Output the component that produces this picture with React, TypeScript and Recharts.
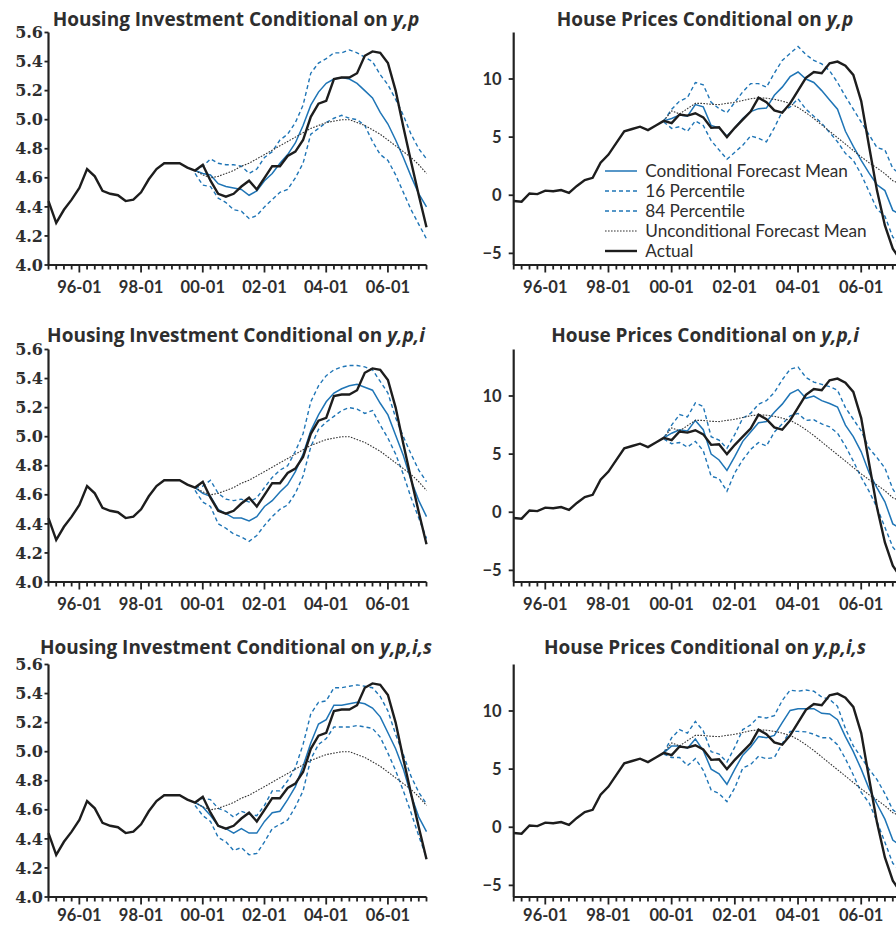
/**
 * Conditional forecasts: housing investment (left) and house prices (right),
 * three conditioning sets stacked in rows. Quarterly, 95-01 .. 07-04.
 */
import { LineChart, Line, XAxis, YAxis, Legend } from 'recharts';

// --- categories -------------------------------------------------------------
const quarters = [
  '95-01', '95-04', '95-07', '95-10', '96-01', '96-04', '96-07', '96-10',
  '97-01', '97-04', '97-07', '97-10', '98-01', '98-04', '98-07', '98-10',
  '99-01', '99-04', '99-07', '99-10', '00-01', '00-04', '00-07', '00-10',
  '01-01', '01-04', '01-07', '01-10', '02-01', '02-04', '02-07', '02-10',
  '03-01', '03-04', '03-07', '03-10', '04-01', '04-04', '04-07', '04-10',
  '05-01', '05-04', '05-07', '05-10', '06-01', '06-04', '06-07', '06-10',
  '07-01', '07-04',
];
const majorLabels = ['96-01', '98-01', '00-01', '02-01', '04-01', '06-01'];
const forecastStart = '99-10';

// --- actuals (full sample) ---------------------------------------------------
const actualInv = [
  4.44, 4.29, 4.38, 4.45, 4.53, 4.66, 4.61, 4.51, 4.49, 4.48,
  4.44, 4.45, 4.50, 4.59, 4.66, 4.70, 4.70, 4.70, 4.67, 4.65,
  4.69, 4.58, 4.49, 4.47, 4.49, 4.54, 4.58, 4.52, 4.60, 4.68,
  4.68, 4.75, 4.78, 4.86, 5.02, 5.11, 5.13, 5.28, 5.29, 5.29,
  5.32, 5.44, 5.47, 5.46, 5.39, 5.20, 4.95, 4.71, 4.48, 4.26,
];
const actualHp = [
  -0.5, -0.55, 0.15, 0.1, 0.4, 0.35, 0.45, 0.2, 0.8, 1.3,
  1.5, 2.8, 3.5, 4.5, 5.5, 5.7, 5.9, 5.6, 6.0, 6.4,
  6.2, 6.95, 6.85, 7.05, 6.7, 5.8, 5.85, 5.0, 5.8, 6.5,
  7.2, 8.4, 8.0, 7.3, 7.1, 7.9, 9.0, 10.1, 10.6, 10.5,
  11.35, 11.5, 11.15, 10.35, 8.1, 4.2, 0.4, -2.6, -4.6, -5.6,
];

// --- forecasts (from 99-10 on) -----------------------------------------------
const uncondInv = [
  4.65, 4.62, 4.60, 4.61, 4.63, 4.65, 4.68, 4.70, 4.73, 4.76,
  4.79, 4.82, 4.85, 4.88, 4.91, 4.94, 4.96, 4.98, 4.99, 5.00,
  5.00, 4.98, 4.96, 4.93, 4.90, 4.86, 4.82, 4.78, 4.74, 4.69, 4.63,
];
const uncondHp = [
  6.4, 7.25, 7.0, 7.45, 7.9, 7.9, 7.82, 7.8, 7.9, 8.0,
  8.15, 8.3, 8.38, 8.35, 8.25, 8.1, 7.9, 7.55, 7.1, 6.6,
  6.05, 5.5, 4.95, 4.4, 3.85, 3.3, 2.8, 2.35, 1.85, 1.25, 0.95,
];

// y,p
const meanInv1 = [
  4.65, 4.63, 4.62, 4.56, 4.54, 4.53, 4.52, 4.48, 4.51, 4.58,
  4.63, 4.70, 4.76, 4.84, 4.96, 5.10, 5.19, 5.25, 5.28, 5.29,
  5.28, 5.25, 5.20, 5.15, 5.05, 4.97, 4.86, 4.74, 4.61, 4.49, 4.40,
];
const hiInv1 = [
  4.65, 4.68, 4.73, 4.70, 4.69, 4.69, 4.68, 4.63, 4.66, 4.74,
  4.78, 4.86, 4.90, 4.98, 5.10, 5.32, 5.39, 5.42, 5.46, 5.46,
  5.48, 5.46, 5.43, 5.40, 5.31, 5.24, 5.14, 5.03, 4.90, 4.80, 4.73,
];
const loInv1 = [
  4.63, 4.55, 4.54, 4.46, 4.43, 4.38, 4.37, 4.32, 4.34, 4.40,
  4.45, 4.50, 4.52, 4.60, 4.70, 4.90, 4.94, 4.98, 5.01, 5.03,
  5.01, 5.00, 4.96, 4.85, 4.76, 4.72, 4.62, 4.50, 4.38, 4.28, 4.18,
];
const meanHp1 = [
  6.4, 6.6, 6.9, 6.8, 7.8, 7.6, 6.0, 5.8, 5.1, 5.8,
  6.6, 7.2, 7.45, 7.5, 8.6, 9.3, 10.2, 10.6, 10.0, 9.7,
  9.0, 8.2, 7.4, 5.5, 4.2, 3.0, 1.9, 0.9, 0.4, -1.3, -1.7,
];
const hiHp1 = [
  6.4, 7.4, 8.1, 8.4, 9.7, 9.5, 8.0, 7.45, 7.1, 8.0,
  8.9, 9.6, 9.6, 9.3, 10.5, 11.6, 12.2, 12.8, 12.1, 11.6,
  11.3, 10.7, 9.7, 8.5, 7.4, 6.3, 5.2, 4.1, 3.9, 2.3, 1.8,
];
const loHp1 = [
  6.3, 5.75, 5.9, 5.5, 6.4, 6.0, 4.7, 3.9, 3.1, 3.7,
  4.3, 5.1, 4.9, 4.6, 5.8, 7.2, 7.6, 8.3, 7.4, 6.8,
  6.2, 5.4, 4.6, 3.6, 3.0, 1.8, 0.3, -1.2, -1.8, -3.6, -4.3,
];

// y,p,i
const meanInv2 = [
  4.65, 4.61, 4.59, 4.50, 4.47, 4.44, 4.44, 4.42, 4.45, 4.52,
  4.56, 4.62, 4.67, 4.76, 4.88, 5.04, 5.15, 5.24, 5.30, 5.33,
  5.35, 5.36, 5.34, 5.32, 5.23, 5.15, 5.01, 4.87, 4.70, 4.56, 4.45,
];
const hiInv2 = [
  4.65, 4.66, 4.70, 4.61, 4.57, 4.56, 4.57, 4.55, 4.58, 4.65,
  4.72, 4.77, 4.80, 4.90, 5.02, 5.24, 5.35, 5.42, 5.46, 5.48,
  5.49, 5.49, 5.48, 5.46, 5.38, 5.30, 5.13, 5.00, 4.88, 4.77, 4.69,
];
const loInv2 = [
  4.63, 4.55, 4.52, 4.40, 4.37, 4.33, 4.31, 4.28, 4.32, 4.39,
  4.45, 4.50, 4.53, 4.61, 4.73, 4.93, 5.05, 5.10, 5.14, 5.18,
  5.20, 5.19, 5.16, 5.18, 5.08, 4.99, 4.88, 4.74, 4.58, 4.44, 4.30,
];
const meanHp2 = [
  6.4, 6.8, 7.1, 7.0, 7.9, 7.1, 5.0, 4.5, 3.6, 4.8,
  6.1, 6.9, 7.7, 7.8, 8.6, 9.3, 10.2, 10.55, 9.8, 10.0,
  9.6, 9.35, 9.05, 7.5, 6.5, 5.2, 3.4, 2.1, 0.9, -1.0, -1.4,
];
const hiHp2 = [
  6.4, 7.5, 8.4, 8.2, 9.4, 9.1, 6.5, 6.2, 5.5, 6.7,
  8.1, 8.5, 9.3, 9.6, 10.3, 11.4, 12.3, 12.5, 11.6, 11.2,
  11.0, 10.8, 10.5, 9.0, 8.0, 7.0, 5.5, 4.7, 3.8, 2.0, 0.9,
];
const loHp2 = [
  6.3, 5.9, 6.0, 5.6, 6.1, 5.3, 3.1, 2.9, 1.8, 3.4,
  4.5, 5.4, 6.0, 5.7, 6.9, 7.6, 8.3, 8.5, 7.9, 7.95,
  7.6, 7.35, 6.8, 5.7, 4.4, 3.0, 1.8, 0.4, -1.3, -3.0, -3.8,
];

// y,p,i,s
const meanInv3 = [
  4.65, 4.62, 4.56, 4.49, 4.47, 4.44, 4.47, 4.44, 4.44, 4.52,
  4.58, 4.59, 4.67, 4.76, 4.90, 5.06, 5.19, 5.22, 5.32, 5.32,
  5.33, 5.34, 5.33, 5.30, 5.24, 5.13, 5.02, 4.88, 4.70, 4.55, 4.45,
];
const hiInv3 = [
  4.65, 4.68, 4.67, 4.61, 4.59, 4.55, 4.59, 4.57, 4.56, 4.63,
  4.73, 4.73, 4.80, 4.89, 5.05, 5.26, 5.34, 5.35, 5.44, 5.44,
  5.45, 5.46, 5.45, 5.44, 5.38, 5.28, 5.12, 4.98, 4.83, 4.72, 4.64,
];
const loInv3 = [
  4.63, 4.56, 4.52, 4.41, 4.38, 4.32, 4.34, 4.29, 4.30, 4.38,
  4.47, 4.50, 4.53, 4.62, 4.73, 4.95, 5.05, 5.09, 5.17, 5.17,
  5.17, 5.18, 5.17, 5.16, 5.10, 4.99, 4.87, 4.73, 4.58, 4.42, 4.27,
];
const meanHp3 = [
  6.4, 7.0, 7.0, 6.8, 7.6, 6.6, 5.0, 4.6, 3.7, 5.0,
  6.2, 6.9, 7.8, 7.7, 7.9, 9.0, 10.05, 10.2, 10.2, 10.2,
  9.8, 9.75, 9.25, 7.8, 6.5, 5.0, 3.3, 2.0, 0.7, -1.1, -1.6,
];
const hiHp3 = [
  6.4, 7.7, 8.4, 8.1, 9.1, 8.3, 6.5, 6.3, 5.6, 6.9,
  8.4, 8.8, 9.5, 9.4, 9.6, 10.9, 11.8, 11.7, 11.8, 11.7,
  11.2, 11.0, 10.4, 8.5, 7.0, 6.0, 5.0, 4.1, 2.9, 1.5, 1.0,
];
const loHp3 = [
  6.3, 6.0, 6.0, 5.3, 5.9, 4.9, 3.2, 2.9, 2.2, 3.4,
  5.1, 5.4, 6.1, 5.9, 6.0, 7.2, 8.25, 8.25, 8.2, 8.0,
  7.7, 7.7, 7.1, 5.9, 4.5, 3.0, 2.1, 0.5, -1.3, -3.1, -3.8,
];

// --- axes ---------------------------------------------------------------------
const invTicks = [4.0, 4.2, 4.4, 4.6, 4.8, 5.0, 5.2, 5.4, 5.6];
const hpTicks = [-5, 0, 5, 10];
const titleVars = ['y,p', 'y,p,i', 'y,p,i,s'];

const BLUE = '#1f75b6';
const INK = '#1d1d1d';
const AXIS = '#222';
const TXT = '#2e2e2e';

const ROW_TOPS = [0, 316.6, 632.4];
const TITLE_BASE = [25.8, 341.6, 654];
const LABEL_DROP = [27.8, 27.8, 23.8]; // x-label baseline below the axis, per row

function buildRows(actual: number[], uncond: number[], mean: number[], lo: number[], hi: number[]) {
  const s = quarters.indexOf(forecastStart);
  const f = (arr: number[], i: number) => (i >= s ? arr[i - s] : null);
  return quarters.map((q, i) => ({
    i,
    q,
    actual: actual[i],
    uncond: f(uncond, i),
    mean: f(mean, i),
    lo: f(lo, i),
    hi: f(hi, i),
  }));
}

function QuarterTick(props: any) {
  const { x, y, payload, drop } = props;
  const label = quarters[payload.value];
  const major = majorLabels.includes(label);
  return (
    <g>
      <line x1={x} x2={x} y1={y} y2={y + (major ? 7.5 : 4.5)} stroke={AXIS} strokeWidth={1.8} />
      {major && (
        <text x={x} y={y + drop} textAnchor="middle" fontFamily="Lato" fontWeight={700} fontSize={16.5} fill={TXT}>
          {label}
        </text>
      )}
    </g>
  );
}

const legendOrder = ['mean', 'lo', 'hi', 'uncond', 'actual'];

function LegendBox(props: any) {
  const payload: any[] = props.payload || [];
  const items = legendOrder.map((k) => payload.find((p) => p.dataKey === k)).filter(Boolean);
  return (
    <div>
      {items.map((it: any) => (
        <div key={it.dataKey} style={{ display: 'flex', alignItems: 'center', height: 20 }}>
          <svg width={32} height={20}>
            <line
              x1={0}
              x2={32}
              y1={10}
              y2={10}
              stroke={it.color}
              strokeWidth={it.payload?.strokeWidth}
              strokeDasharray={it.payload?.strokeDasharray}
            />
          </svg>
          <span style={{ marginLeft: 8.6, fontFamily: 'Lato', fontSize: 17.2, color: TXT, whiteSpace: 'nowrap' }}>
            {it.value}
          </span>
        </div>
      ))}
    </div>
  );
}

interface PanelProps {
  left: number;
  top: number;
  width: number;
  yWidth: number;
  plotWidth: number;
  domain: [number, number];
  ticks: number[];
  fmt: (v: number) => string;
  tickFont: any;
  tickSize: number;
  tickMargin: number;
  drop: number;
  rows: any[];
  legend?: boolean;
}

function Panel(p: PanelProps) {
  const idx = quarters.map((_, i) => i);
  return (
    <div style={{ position: 'absolute', left: p.left, top: p.top }}>
      <LineChart
        width={p.width}
        height={316}
        data={p.rows}
        margin={{ top: 32.5, right: p.width - p.yWidth - p.plotWidth, bottom: 0, left: 0 }}
      >
        <XAxis
          dataKey="i"
          type="number"
          domain={[0, quarters.length - 1]}
          ticks={idx}
          interval={0}
          height={51}
          tickSize={0}
          tickMargin={0}
          tickLine={false}
          axisLine={{ stroke: AXIS, strokeWidth: 2.2 }}
          tick={(tp: any) => <QuarterTick {...tp} drop={p.drop} />}
        />
        <YAxis
          type="number"
          domain={p.domain}
          ticks={p.ticks}
          interval={0}
          width={p.yWidth}
          tickSize={p.tickSize}
          tickMargin={p.tickMargin}
          tickFormatter={p.fmt}
          tick={{ fill: TXT, ...p.tickFont }}
          tickLine={{ stroke: AXIS, strokeWidth: 1.8 }}
          axisLine={{ stroke: AXIS, strokeWidth: 2.2 }}
        />
        <Line name="84 Percentile" dataKey="hi" stroke={BLUE} strokeWidth={1.4} strokeDasharray="4 3" dot={false} isAnimationActive={false} />
        <Line name="16 Percentile" dataKey="lo" stroke={BLUE} strokeWidth={1.4} strokeDasharray="4 3" dot={false} isAnimationActive={false} />
        <Line name="Conditional Forecast Mean" dataKey="mean" stroke={BLUE} strokeWidth={1.5} dot={false} isAnimationActive={false} />
        <Line name="Unconditional Forecast Mean" dataKey="uncond" stroke="#333" strokeWidth={1.1} strokeDasharray="1.6 1.4" dot={false} isAnimationActive={false} />
        <Line name="Actual" dataKey="actual" stroke={INK} strokeWidth={2.4} dot={false} isAnimationActive={false} />
        {p.legend && (
          <Legend
            layout="vertical"
            align="center"
            verticalAlign="middle"
            wrapperStyle={{ left: 156.7, top: 160.7, width: 330 }}
            content={(lp: any) => <LegendBox {...lp} />}
          />
        )}
      </LineChart>
    </div>
  );
}

export default function App() {
  const invSets = [
    buildRows(actualInv, uncondInv, meanInv1, loInv1, hiInv1),
    buildRows(actualInv, uncondInv, meanInv2, loInv2, hiInv2),
    buildRows(actualInv, uncondInv, meanInv3, loInv3, hiInv3),
  ];
  const hpSets = [
    buildRows(actualHp, uncondHp, meanHp1, loHp1, hiHp1),
    buildRows(actualHp, uncondHp, meanHp2, loHp2, hiHp2),
    buildRows(actualHp, uncondHp, meanHp3, loHp3, hiHp3),
  ];
  const invFont = { fontFamily: 'DejaVu Serif', fontWeight: 700, fontSize: 16 };
  const hpFont = { fontFamily: 'Lato', fontWeight: 700, fontSize: 16.5 };
  const fmtHp = (v: number) => (v < 0 ? '\u2212' + Math.abs(v) : String(v));

  return (
    <div style={{ position: 'absolute', left: 0, top: 0, width: 896, height: 925, overflow: 'hidden', background: '#fff' }}>
      {ROW_TOPS.map((top, r) => (
        <Panel
          key={'inv' + r}
          left={0}
          top={top}
          width={448}
          yWidth={48.5}
          plotWidth={378}
          domain={[4.0, 5.6]}
          ticks={invTicks}
          fmt={(v) => v.toFixed(1)}
          tickFont={invFont}
          tickSize={4}
          tickMargin={1.5}
          drop={LABEL_DROP[r]}
          rows={invSets[r]}
        />
      ))}
      {ROW_TOPS.map((top, r) => (
        <Panel
          key={'hp' + r}
          left={448}
          top={top}
          width={470}
          yWidth={65.7}
          plotWidth={387}
          domain={[-6, 14]}
          ticks={hpTicks}
          fmt={fmtHp}
          tickFont={hpFont}
          tickSize={5}
          tickMargin={7}
          drop={LABEL_DROP[r]}
          rows={hpSets[r]}
          legend={r === 0}
        />
      ))}
      <svg width={896} height={925} style={{ position: 'absolute', left: 0, top: 0, pointerEvents: 'none' }}>
        {titleVars.map((v, r) => (
          <g key={v} fontFamily="Open Sans" fontWeight={700} fontSize={19} fill={TXT} textAnchor="middle">
            <text x={236} y={TITLE_BASE[r]}>
              Housing Investment Conditional on <tspan fontStyle="italic">{v}</tspan>
            </text>
            <text x={705} y={TITLE_BASE[r]}>
              House Prices Conditional on <tspan fontStyle="italic">{v}</tspan>
            </text>
          </g>
        ))}
      </svg>
    </div>
  );
}
